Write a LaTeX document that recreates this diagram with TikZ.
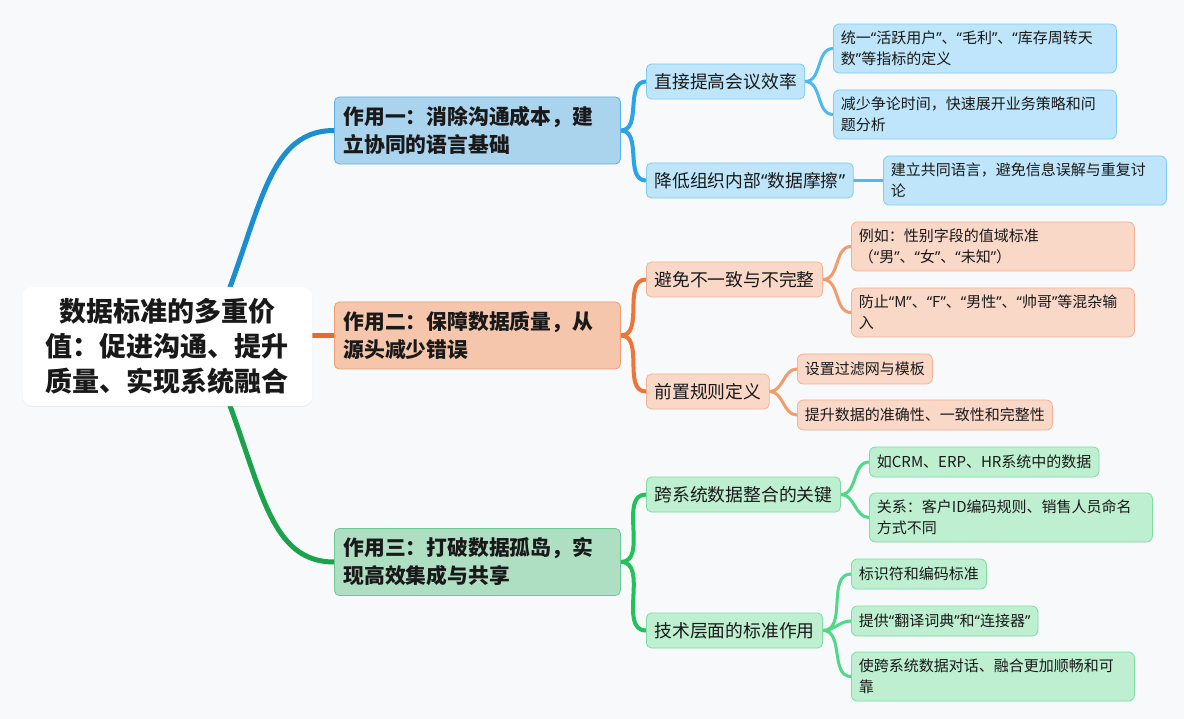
\documentclass[tikz,border=0pt]{standalone}
\usepackage{fontspec}
\setmainfont{Noto Sans CJK SC}
\newfontfamily\latinq{Noto Sans}
\newcommand\quoted[1]{{\latinq “}#1{\latinq ”}}
\usetikzlibrary{backgrounds,shadows}

\definecolor{bgcol}{HTML}{F7F9FB}
\definecolor{bluetrunk}{HTML}{1B8ECF}
\definecolor{bluetwig}{HTML}{2AA4E8}
\definecolor{bluetip}{HTML}{4DB9F0}
\definecolor{bluemainfill}{HTML}{AAD3EE}
\definecolor{bluemaindraw}{HTML}{5BB0E3}
\definecolor{bluesubfill}{HTML}{BEE5FA}
\definecolor{bluesubdraw}{HTML}{7FCBF2}
\definecolor{orangetrunk}{HTML}{E8692A}
\definecolor{orangetwig}{HTML}{EE7535}
\definecolor{orangetip}{HTML}{F39C6B}
\definecolor{orangemainfill}{HTML}{F5C5AC}
\definecolor{orangemaindraw}{HTML}{EE9A72}
\definecolor{orangesubfill}{HTML}{F9D8C8}
\definecolor{orangesubdraw}{HTML}{F4B396}
\definecolor{greentrunk}{HTML}{1BA34C}
\definecolor{greentwig}{HTML}{23C15A}
\definecolor{greentip}{HTML}{4ED888}
\definecolor{greenmainfill}{HTML}{AFDFC3}
\definecolor{greenmaindraw}{HTML}{6CC795}
\definecolor{greensubfill}{HTML}{BDEFD0}
\definecolor{greensubdraw}{HTML}{7EDDA2}

\tikzset{
  box/.style={draw, rounded corners=5pt, line width=0.8pt, text=black!90,
    anchor=west, align=left, inner ysep=0pt},
  rootbox/.style={box, fill=white, draw=none, rounded corners=10pt,
    minimum width=290pt, minimum height=119pt, align=center,
    font=\fontsize{27}{35}\selectfont\bfseries,
    drop shadow={shadow xshift=0pt, shadow yshift=-1pt, opacity=0.12}},
  mainbox/.style={box, text width=268pt, inner xsep=9pt, minimum height=67pt,
    font=\fontsize{20.8}{28}\selectfont\bfseries},
  subbox/.style={box, inner xsep=8pt, minimum height=35pt,
    font=\fontsize{17.8}{22}\selectfont},
  leafbox/.style={box, inner xsep=7.5pt, minimum height=30pt, rounded corners=6pt,
    font=\fontsize{15}{21}\selectfont},
  longleaf/.style={leafbox, text width=268pt, minimum height=49pt},
  bluemain/.style={fill=bluemainfill, draw=bluemaindraw},
  bluesub/.style={fill=bluesubfill, draw=bluesubdraw},
  orangemain/.style={fill=orangemainfill, draw=orangemaindraw},
  orangesub/.style={fill=orangesubfill, draw=orangesubdraw},
  greenmain/.style={fill=greenmainfill, draw=greenmaindraw},
  greensub/.style={fill=greensubfill, draw=greensubdraw},
  trunk/.style={line width=5pt, line cap=round},
  twig/.style={line width=4pt, line cap=round},
  tip/.style={line width=3pt, line cap=round},
}

\begin{document}
\begin{tikzpicture}[x=1pt, y=-1pt]
  \useasboundingbox (0,0) rectangle (1184,719);

  \node[rootbox] (root) at (22,346.5)
    {数据标准的多重价\\值：促进沟通、提升\\质量、实现系统融合};

  \node[mainbox, bluemain] (comm) at (334,130.5)
    {作用一：消除沟通成本，建\\立协同的语言基础};
  \node[subbox, bluesub] (meet) at (646,81.5) {直接提高会议效率};
  \node[subbox, bluesub] (friction) at (646,180.5) {降低组织内部\quoted{数据摩擦}};
  \node[longleaf, bluesub] (define) at (833,48.5)
    {统一\quoted{活跃用户}、\quoted{毛利}、\quoted{库存周转天\\数}等指标的定义};
  \node[longleaf, bluesub] (debate) at (833,114.5)
    {减少争论时间，快速展开业务策略和问\\题分析};
  \node[longleaf, bluesub] (lang) at (883,180.5)
    {建立共同语言，避免信息误解与重复讨\\论};

  \node[mainbox, orangemain] (quality) at (334,335.5)
    {作用二：保障数据质量，从\\源头减少错误};
  \node[subbox, orangesub] (consist) at (646,279.5) {避免不一致与不完整};
  \node[subbox, orangesub] (rules) at (646,391.5) {前置规则定义};
  \node[longleaf, orangesub] (gender) at (851,246.5)
    {例如：性别字段的值域标准\\（\quoted{男}、\quoted{女}、\quoted{未知}）};
  \node[longleaf, orangesub] (mixed) at (851,312.5)
    {防止\quoted{M}、\quoted{F}、\quoted{男性}、\quoted{帅哥}等混杂输\\入};
  \node[leafbox, orangesub] (filter) at (797,369) {设置过滤网与模板};
  \node[leafbox, orangesub] (accuracy) at (797,415) {提升数据的准确性、一致性和完整性};

  \node[mainbox, greenmain] (silo) at (334,562)
    {作用三：打破数据孤岛，实\\现高效集成与共享};
  \node[subbox, greensub] (cross) at (646,494.5) {跨系统数据整合的关键};
  \node[subbox, greensub] (tech) at (646,630.5) {技术层面的标准作用};
  \node[leafbox, greensub] (crm) at (869,462) {如CRM、ERP、HR系统中的数据};
  \node[longleaf, greensub] (relation) at (869,517.5)
    {关系：客户ID编码规则、销售人员命名\\方式不同};
  \node[leafbox, greensub] (ident) at (851,574) {标识符和编码标准};
  \node[leafbox, greensub] (dict) at (851,621) {提供\quoted{翻译词典}和\quoted{连接器}};
  \node[longleaf, greensub] (smooth) at (851,676.5)
    {使跨系统数据对话、融合更加顺畅和可\\靠};

  \begin{scope}[on background layer]
    \fill[bgcol] (0,0) rectangle (1184,719);

    \draw[trunk, bluetrunk] ([xshift=38pt]root.center)
      .. controls +(55,-116) and +(-74,0) .. (comm.west);
    \draw[trunk, orangetrunk] (root.center |- quality.west) -- (quality.west);
    \draw[trunk, greentrunk] ([xshift=38pt]root.center)
      .. controls +(55,116) and +(-74,0) .. (silo.west);

    \foreach \a/\b in {comm/meet, comm/friction}
      \draw[twig, bluetwig] (\a.east) to[out=0, in=180] (\b.west);
    \foreach \a/\b in {meet/define, meet/debate, friction/lang}
      \draw[tip, bluetip] (\a.east) to[out=0, in=180] (\b.west);

    \foreach \a/\b in {quality/consist, quality/rules}
      \draw[twig, orangetwig] (\a.east) to[out=0, in=180] (\b.west);
    \foreach \a/\b in {consist/gender, consist/mixed, rules/filter, rules/accuracy}
      \draw[tip, orangetip] (\a.east) to[out=0, in=180] (\b.west);

    \foreach \a/\b in {silo/cross, silo/tech}
      \draw[twig, greentwig] (\a.east) to[out=0, in=180] (\b.west);
    \foreach \a/\b in {cross/crm, cross/relation, tech/ident, tech/dict, tech/smooth}
      \draw[tip, greentip] (\a.east) to[out=0, in=180] (\b.west);
  \end{scope}
\end{tikzpicture}
\end{document}
